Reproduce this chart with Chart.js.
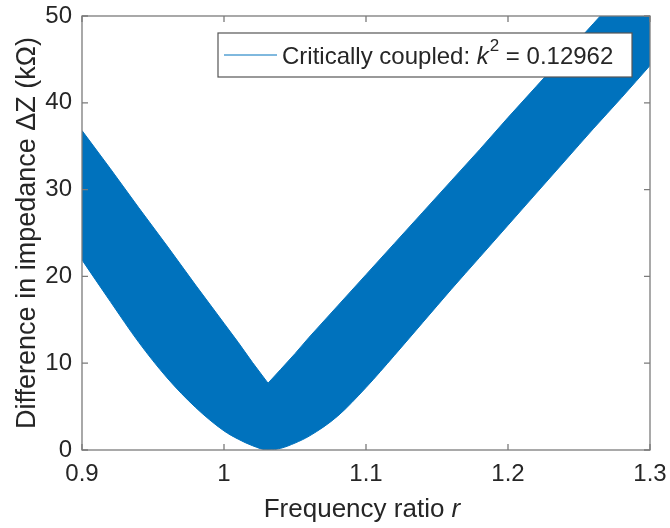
<!DOCTYPE html>
<html>
<head>
<meta charset="utf-8">
<script src="https://cdn.jsdelivr.net/npm/chart.js@4.4.1/dist/chart.umd.min.js"></script>
<style>
  html, body { margin: 0; padding: 0; background: #fff; }
  #wrap { width: 670px; height: 528px; }
</style>
</head>
<body>
<div id="wrap"><canvas id="myChart"></canvas></div>
<script>
// frequency ratio r and the edges of the band (kOhm)
const ratios = [0.9, 0.92, 0.94, 0.96, 0.98, 1.0, 1.01, 1.02, 1.031, 1.04, 1.05, 1.06, 1.08, 1.1, 1.12, 1.14, 1.16, 1.18, 1.2, 1.22, 1.24, 1.26, 1.28, 1.3];
const upperZ = [36.8, 32.4, 27.9, 23.5, 19.0, 14.6, 12.4, 10.1, 7.7, 9.3, 11.1, 13.0, 16.6, 20.2, 23.8, 27.4, 31.0, 34.6, 38.3, 41.9, 45.5, 49.1, 52.7, 56.3];
const lowerZ = [21.9, 17.1, 12.4, 8.3, 4.9, 2.2, 1.25, 0.5, 0, 0.2, 0.8, 1.6, 3.9, 7.2, 10.9, 14.7, 18.5, 22.2, 25.9, 29.6, 33.3, 37.0, 40.6, 44.3];

const xTickValues = [0.9, 1.0, 1.1, 1.2, 1.3];
const xTickLabels = ['0.9', '1', '1.1', '1.2', '1.3'];
const yTickValues = [0, 10, 20, 30, 40, 50];

const bandColor = 'rgb(0, 114, 189)';
const axisColor = '#7b7b7b';
const textColor = '#262626';
const fontFamily = '"Liberation Sans", Arial, sans-serif';

// box round the axes with inward ticks, legend and x label, like MATLAB
const boxPlugin = {
  id: 'box',
  afterDatasetsDraw(chart) {
    const { ctx, chartArea: a, scales } = chart;
    ctx.save();
    ctx.strokeStyle = axisColor;
    ctx.lineWidth = 1.3;
    ctx.strokeRect(a.left, a.top, a.right - a.left, a.bottom - a.top);
    const len = 6;
    ctx.beginPath();
    xTickValues.forEach(v => {
      const px = scales.x.getPixelForValue(v);
      ctx.moveTo(px, a.bottom); ctx.lineTo(px, a.bottom - len);
      ctx.moveTo(px, a.top); ctx.lineTo(px, a.top + len);
    });
    yTickValues.forEach(v => {
      const py = scales.y.getPixelForValue(v);
      ctx.moveTo(a.left, py); ctx.lineTo(a.left + len, py);
      ctx.moveTo(a.right, py); ctx.lineTo(a.right - len, py);
    });
    ctx.stroke();

    // legend box
    const lx = a.right - 432, ly = a.top + 17, lw = 414, lh = 44;
    ctx.fillStyle = '#fff';
    ctx.fillRect(lx, ly, lw, lh);
    ctx.strokeStyle = '#555';
    ctx.lineWidth = 1.2;
    ctx.strokeRect(lx, ly, lw, lh);
    const cy = ly + lh / 2;
    ctx.strokeStyle = bandColor;
    ctx.lineWidth = 1;
    ctx.beginPath();
    ctx.moveTo(lx + 6, cy); ctx.lineTo(lx + 59, cy);
    ctx.stroke();

    ctx.fillStyle = textColor;
    ctx.textBaseline = 'middle';
    ctx.textAlign = 'left';
    let tx = lx + 64;
    const ty = cy + 2;
    ctx.font = '24px ' + fontFamily;
    ctx.fillText('Critically coupled: ', tx, ty);
    tx += ctx.measureText('Critically coupled: ').width;
    ctx.font = 'italic 24px ' + fontFamily;
    ctx.fillText('k', tx, ty);
    tx += ctx.measureText('k').width + 1;
    ctx.font = '17px ' + fontFamily;
    ctx.fillText('2', tx, ty - 11);
    tx += ctx.measureText('2').width;
    ctx.font = '24px ' + fontFamily;
    ctx.fillText(' = 0.12962', tx, ty);

    // x axis title with italic r
    const t1 = 'Frequency ratio ';
    ctx.font = '26px ' + fontFamily;
    const w1 = ctx.measureText(t1).width;
    ctx.font = 'italic 26px ' + fontFamily;
    const w2 = ctx.measureText('r').width;
    const xx = (a.left + a.right) / 2 - (w1 + w2) / 2 - 4;
    ctx.font = '26px ' + fontFamily;
    ctx.fillText(t1, xx, 510);
    ctx.font = 'italic 26px ' + fontFamily;
    ctx.fillText('r', xx + w1, 510);
    ctx.restore();
  }
};

const data = {
  datasets: [
    {
      label: 'upper',
      data: ratios.map((r, i) => ({ x: r, y: upperZ[i] })),
      borderColor: bandColor,
      backgroundColor: bandColor,
      borderWidth: 1,
      pointRadius: 0,
      tension: 0,
      fill: '+1'
    },
    {
      label: 'lower',
      data: ratios.map((r, i) => ({ x: r, y: lowerZ[i] })),
      borderColor: bandColor,
      backgroundColor: bandColor,
      borderWidth: 1,
      pointRadius: 0,
      cubicInterpolationMode: 'monotone',
      fill: false
    }
  ]
};

const config = {
  type: 'line',
  data: data,
  plugins: [boxPlugin],
  options: {
    responsive: true,
    maintainAspectRatio: false,
    animation: false,
    layout: { padding: { left: 0, right: 20, top: 16, bottom: 0 } },
    plugins: {
      legend: { display: false },
      tooltip: { enabled: false }
    },
    scales: {
      x: {
        type: 'linear',
        min: 0.9,
        max: 1.3,
        afterBuildTicks: s => { s.ticks = xTickValues.map(v => ({ value: v })); },
        afterFit: s => { s.height = 78; },
        grid: { display: false, drawTicks: true, tickLength: 10 },
        border: { display: false },
        ticks: {
          color: textColor,
          font: { size: 24, family: fontFamily },
          padding: 0,
          maxRotation: 0,
          callback: (v, i) => xTickLabels[i]
        }
      },
      y: {
        min: 0,
        max: 50,
        afterBuildTicks: s => { s.ticks = yTickValues.map(v => ({ value: v })); },
        afterFit: s => { s.width = 82; },
        grid: { display: false, drawTicks: true, tickLength: 10 },
        border: { display: false },
        ticks: {
          color: textColor,
          font: { size: 24, family: fontFamily },
          padding: 0
        },
        title: {
          display: true,
          text: 'Difference in impedance ΔZ (kΩ)',
          color: textColor,
          font: { size: 27, family: fontFamily },
          padding: { top: 11, bottom: 0 }
        }
      }
    }
  }
};

const myChart = new Chart(document.getElementById('myChart'), config);
</script>
</body>
</html>
